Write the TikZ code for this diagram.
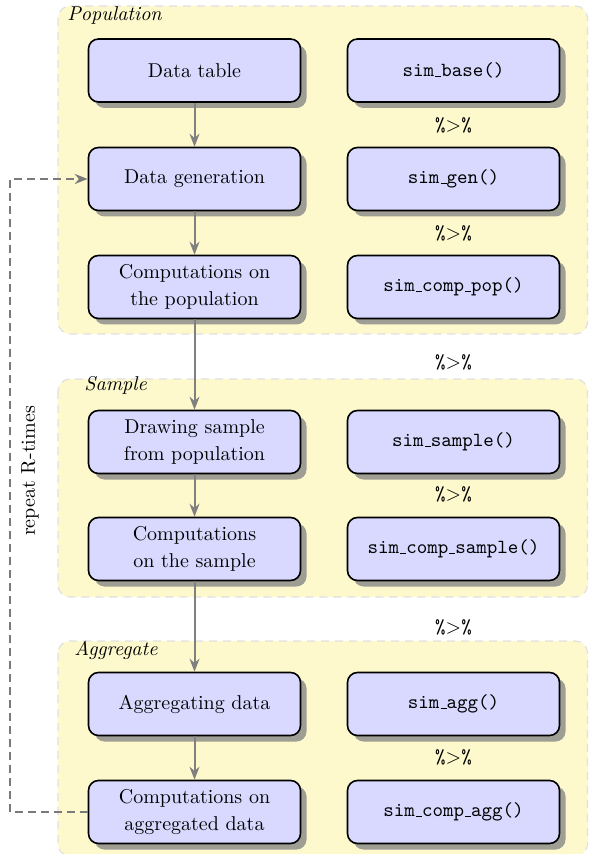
\documentclass[tikz,border=0pt]{standalone}
\usetikzlibrary{shadows,arrows.meta}
\definecolor{boxfill}{RGB}{217,217,255}
\definecolor{areafill}{RGB}{253,249,204}
\definecolor{shadowgray}{RGB}{158,158,148}
\newcommand\uscore{\leavevmode\kern.06em\vbox{\hrule width.3em}}
\tikzset{
  stepbox/.style={draw=black, line width=0.8pt, fill=boxfill, rounded corners=5pt,
    minimum width=106pt, minimum height=31.5pt, align=center,
    font=\fontsize{10}{13.5}\selectfont,
    drop shadow={shadow xshift=3pt, shadow yshift=-3pt, fill=shadowgray, opacity=1}},
  codebox/.style={stepbox, font=\ttfamily},
  area/.style={draw=black!12, dash pattern=on 4pt off 3pt, fill=areafill, rounded corners=6pt, line width=0.6pt},
  arealabel/.style={anchor=base west, font=\itshape, inner sep=0pt},
  flow/.style={draw=black!50, line width=1pt, -{Stealth[length=6.5pt,width=5pt]}},
  loopline/.style={draw=black!52, line width=1.45pt, dash pattern=on 4pt off 2.5pt},
  pipe/.style={inner sep=0pt}
}
\begin{document}
\begin{tikzpicture}[x=0.5pt,y=-0.5pt]
\useasboundingbox (0,0) rectangle (588,854);
% areas
\draw[area] (58,6) rectangle (587.5,334);
\draw[area] (58,379) rectangle (587.5,597);
\draw[area] (58,641) rectangle (587.5,856);
\node[arealabel] (lpop) at (67,21) {Population};
\node[arealabel] (lsam) at (84,391) {Sample};
\node[arealabel] (lagg) at (74,655) {Aggregate};
% left column
\node[stepbox] (table) at (194.5,70.5) {Data table};
\node[stepbox] (gen) at (194.5,179) {Data generation};
\node[stepbox] (comppop) at (194.5,287) {Computations on\\the population};
\node[stepbox] (draw) at (194.5,442) {Drawing sample\\from population};
\node[stepbox] (compsam) at (194.5,549) {Computations\\on the sample};
\node[stepbox] (agg) at (194.5,704) {Aggregating data};
\node[stepbox] (compagg) at (194.5,812) {Computations on\\aggregated data};
% right column
\node[codebox] (fbase) at (453.5,70.5) {sim\uscore base()};
\node[codebox] (fgen) at (453.5,179) {sim\uscore gen()};
\node[codebox] (fcomppop) at (453.5,287) {sim\uscore comp\uscore pop()};
\node[codebox] (fsample) at (453.5,442) {sim\uscore sample()};
\node[codebox] (fcompsam) at (453.5,549) {sim\uscore comp\uscore sample()};
\node[codebox] (fagg) at (453.5,704) {sim\uscore agg()};
\node[codebox] (fcompagg) at (453.5,812) {sim\uscore comp\uscore agg()};
% pipes
\node[pipe] (p1) at (453.5,125) {\texttt{\%}$>$\texttt{\%}};
\node[pipe] (p2) at (453.5,233) {\texttt{\%}$>$\texttt{\%}};
\node[pipe] (p3) at (453.5,362) {\texttt{\%}$>$\texttt{\%}};
\node[pipe] (p4) at (453.5,494) {\texttt{\%}$>$\texttt{\%}};
\node[pipe] (p5) at (453.5,627) {\texttt{\%}$>$\texttt{\%}};
\node[pipe] (p6) at (453.5,757) {\texttt{\%}$>$\texttt{\%}};
% flow arrows
\draw[flow] (table) -- (gen);
\draw[flow] (gen) -- (comppop);
\draw[flow] (comppop) -- (draw);
\draw[flow] (draw) -- (compsam);
\draw[flow] (compsam) -- (agg);
\draw[flow] (agg) -- (compagg);
% loop
\coordinate (lx) at (10,0);
\draw[loopline, -{Stealth[length=6.5pt,width=5pt]}] (compagg.west) -- (compagg.west -| lx) |- (gen.west);
\node[rotate=90] (rep) at (30,471) {repeat R-times};
\end{tikzpicture}
\end{document}
